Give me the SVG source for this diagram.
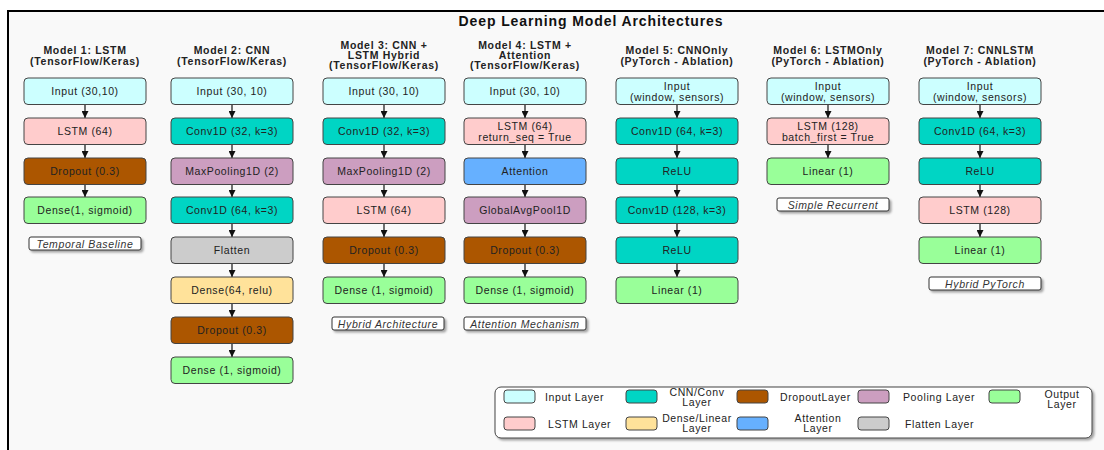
<svg xmlns="http://www.w3.org/2000/svg" width="1104" height="450" viewBox="0 0 1104 450">
  <defs>
    <marker id="arrow" markerUnits="userSpaceOnUse" markerWidth="7" markerHeight="7" viewBox="0 0 7 7" refX="7" refY="3.5" orient="auto">
      <path d="M0,0 L7,3.5 L0,7 z" fill="#111"/>
    </marker>
    <filter id="shadow" x="-10%" y="-30%" width="130%" height="180%">
      <feDropShadow dx="2" dy="2" stdDeviation="1.2" flood-color="#000" flood-opacity="0.35"/>
    </filter>
  </defs>
  <style>
    text { font-family: "Liberation Sans", Arial, sans-serif; fill: #222; }
    .title { font-size: 14px; font-weight: bold; letter-spacing: 0.9px; fill: #111; }
    .head { font-size: 10.5px; font-weight: bold; letter-spacing: 0.7px; fill: #222; }
    .lbl { font-size: 10.5px; letter-spacing: 0.6px; }
    .note { font-size: 10.5px; font-style: italic; letter-spacing: 0.6px; fill: #333; }
    .leg { font-size: 10.5px; letter-spacing: 0.6px; }
    .node rect { stroke: #444; stroke-width: 1; }
    .notebox { fill: #fff; stroke: #333; stroke-width: 1; }
    .conn line { stroke: #111; stroke-width: 1.2; }
    .input { fill: #ccffff; }
    .lstm { fill: #ffcccc; }
    .cnn { fill: #00d5c4; }
    .drop { fill: #ac5600; }
    .pool { fill: #cc9ec0; }
    .dense { fill: #ffe29a; }
    .attn { fill: #66b0ff; }
    .out { fill: #99ff99; }
    .flat { fill: #cccccc; }
  </style>

  <!-- canvas and frame -->
  <rect x="0" y="0" width="1104" height="450" fill="#ffffff"/>
  <rect x="8" y="11" width="1096" height="439" fill="#f9f9f9"/>
  <line x1="7" y1="11" x2="1104" y2="11" stroke="#000" stroke-width="2"/>
  <line x1="8" y1="10" x2="8" y2="450" stroke="#000" stroke-width="2"/>

  <text class="title" x="591" y="26" text-anchor="middle">Deep Learning Model Architectures</text>

  <!-- column headings -->
  <g id="headings">
    <text class="head" x="85" y="53.5" text-anchor="middle">Model 1: LSTM</text>
    <text class="head" x="85" y="64.5" text-anchor="middle">(TensorFlow/Keras)</text>
    <text class="head" x="232" y="53.5" text-anchor="middle">Model 2: CNN</text>
    <text class="head" x="232" y="64.5" text-anchor="middle">(TensorFlow/Keras)</text>
    <text class="head" x="384" y="48.5" text-anchor="middle">Model 3: CNN +</text>
    <text class="head" x="384" y="58.5" text-anchor="middle">LSTM Hybrid</text>
    <text class="head" x="384" y="68.5" text-anchor="middle">(TensorFlow/Keras)</text>
    <text class="head" x="525" y="48.5" text-anchor="middle">Model 4: LSTM +</text>
    <text class="head" x="525" y="58.5" text-anchor="middle">Attention</text>
    <text class="head" x="525" y="68.5" text-anchor="middle">(TensorFlow/Keras)</text>
    <text class="head" x="677" y="53.5" text-anchor="middle">Model 5: CNNOnly</text>
    <text class="head" x="677" y="64.5" text-anchor="middle">(PyTorch - Ablation)</text>
    <text class="head" x="828" y="53.5" text-anchor="middle">Model 6: LSTMOnly</text>
    <text class="head" x="828" y="64.5" text-anchor="middle">(PyTorch - Ablation)</text>
    <text class="head" x="980" y="53.5" text-anchor="middle">Model 7: CNNLSTM</text>
    <text class="head" x="980" y="64.5" text-anchor="middle">(PyTorch - Ablation)</text>
  </g>

  <!-- connectors -->
  <g id="connectors" class="conn">
    <!-- model 1 -->
    <line x1="85" y1="104.5" x2="85" y2="118" marker-end="url(#arrow)"/>
    <line x1="85" y1="144.5" x2="85" y2="158" marker-end="url(#arrow)"/>
    <line x1="85" y1="184.5" x2="85" y2="197" marker-end="url(#arrow)"/>
    <!-- model 2 -->
    <line x1="232" y1="104.5" x2="232" y2="118" marker-end="url(#arrow)"/>
    <line x1="232" y1="144.5" x2="232" y2="158" marker-end="url(#arrow)"/>
    <line x1="232" y1="184.5" x2="232" y2="197" marker-end="url(#arrow)"/>
    <line x1="232" y1="223.5" x2="232" y2="237" marker-end="url(#arrow)"/>
    <line x1="232" y1="263.5" x2="232" y2="277" marker-end="url(#arrow)"/>
    <line x1="232" y1="303.5" x2="232" y2="317" marker-end="url(#arrow)"/>
    <line x1="232" y1="343.5" x2="232" y2="357" marker-end="url(#arrow)"/>
    <!-- model 3 -->
    <line x1="384" y1="104.5" x2="384" y2="118" marker-end="url(#arrow)"/>
    <line x1="384" y1="144.5" x2="384" y2="158" marker-end="url(#arrow)"/>
    <line x1="384" y1="184.5" x2="384" y2="197" marker-end="url(#arrow)"/>
    <line x1="384" y1="223.5" x2="384" y2="237" marker-end="url(#arrow)"/>
    <line x1="384" y1="263.5" x2="384" y2="277" marker-end="url(#arrow)"/>
    <!-- model 4 -->
    <line x1="525" y1="104.5" x2="525" y2="118" marker-end="url(#arrow)"/>
    <line x1="525" y1="144.5" x2="525" y2="158" marker-end="url(#arrow)"/>
    <line x1="525" y1="184.5" x2="525" y2="197" marker-end="url(#arrow)"/>
    <line x1="525" y1="223.5" x2="525" y2="237" marker-end="url(#arrow)"/>
    <line x1="525" y1="263.5" x2="525" y2="277" marker-end="url(#arrow)"/>
    <!-- model 5 -->
    <line x1="677" y1="104.5" x2="677" y2="118" marker-end="url(#arrow)"/>
    <line x1="677" y1="144.5" x2="677" y2="158" marker-end="url(#arrow)"/>
    <line x1="677" y1="184.5" x2="677" y2="197" marker-end="url(#arrow)"/>
    <line x1="677" y1="223.5" x2="677" y2="237" marker-end="url(#arrow)"/>
    <line x1="677" y1="263.5" x2="677" y2="277" marker-end="url(#arrow)"/>
    <!-- model 6 -->
    <line x1="828" y1="104.5" x2="828" y2="118" marker-end="url(#arrow)"/>
    <line x1="828" y1="144.5" x2="828" y2="158" marker-end="url(#arrow)"/>
    <!-- model 7 -->
    <line x1="980" y1="104.5" x2="980" y2="118" marker-end="url(#arrow)"/>
    <line x1="980" y1="144.5" x2="980" y2="158" marker-end="url(#arrow)"/>
    <line x1="980" y1="184.5" x2="980" y2="197" marker-end="url(#arrow)"/>
    <line x1="980" y1="223.5" x2="980" y2="237" marker-end="url(#arrow)"/>
  </g>

  <!-- Model 1 -->
  <g id="m1-input" class="node"><rect class="input" x="24" y="78" width="122" height="26.5" rx="4"/><text class="lbl" x="85" y="95" text-anchor="middle">Input (30,10)</text></g>
  <g id="m1-lstm" class="node"><rect class="lstm" x="24" y="118" width="122" height="26.5" rx="4"/><text class="lbl" x="85" y="135" text-anchor="middle">LSTM (64)</text></g>
  <g id="m1-dropout" class="node"><rect class="drop" x="24" y="158" width="122" height="26.5" rx="4"/><text class="lbl" x="85" y="175" text-anchor="middle">Dropout (0.3)</text></g>
  <g id="m1-dense" class="node"><rect class="out" x="24" y="197" width="122" height="26.5" rx="4"/><text class="lbl" x="85" y="214" text-anchor="middle">Dense(1, sigmoid)</text></g>
  <g id="m1-note"><rect class="notebox" x="29" y="237" width="112" height="13" rx="2" filter="url(#shadow)"/><text class="note" x="85" y="247.5" text-anchor="middle">Temporal Baseline</text></g>

  <!-- Model 2 -->
  <g id="m2-input" class="node"><rect class="input" x="171" y="78" width="122" height="26.5" rx="4"/><text class="lbl" x="232" y="95" text-anchor="middle">Input (30, 10)</text></g>
  <g id="m2-conv1" class="node"><rect class="cnn" x="171" y="118" width="122" height="26.5" rx="4"/><text class="lbl" x="232" y="135" text-anchor="middle">Conv1D (32, k=3)</text></g>
  <g id="m2-pool" class="node"><rect class="pool" x="171" y="158" width="122" height="26.5" rx="4"/><text class="lbl" x="232" y="175" text-anchor="middle">MaxPooling1D (2)</text></g>
  <g id="m2-conv2" class="node"><rect class="cnn" x="171" y="197" width="122" height="26.5" rx="4"/><text class="lbl" x="232" y="214" text-anchor="middle">Conv1D (64, k=3)</text></g>
  <g id="m2-flatten" class="node"><rect class="flat" x="171" y="237" width="122" height="26.5" rx="4"/><text class="lbl" x="232" y="254" text-anchor="middle">Flatten</text></g>
  <g id="m2-dense64" class="node"><rect class="dense" x="171" y="277" width="122" height="26.5" rx="4"/><text class="lbl" x="232" y="294" text-anchor="middle">Dense(64, relu)</text></g>
  <g id="m2-dropout" class="node"><rect class="drop" x="171" y="317" width="122" height="26.5" rx="4"/><text class="lbl" x="232" y="334" text-anchor="middle">Dropout (0.3)</text></g>
  <g id="m2-dense" class="node"><rect class="out" x="171" y="357" width="122" height="26.5" rx="4"/><text class="lbl" x="232" y="374" text-anchor="middle">Dense (1, sigmoid)</text></g>

  <!-- Model 3 -->
  <g id="m3-input" class="node"><rect class="input" x="323" y="78" width="122" height="26.5" rx="4"/><text class="lbl" x="384" y="95" text-anchor="middle">Input (30, 10)</text></g>
  <g id="m3-conv" class="node"><rect class="cnn" x="323" y="118" width="122" height="26.5" rx="4"/><text class="lbl" x="384" y="135" text-anchor="middle">Conv1D (32, k=3)</text></g>
  <g id="m3-pool" class="node"><rect class="pool" x="323" y="158" width="122" height="26.5" rx="4"/><text class="lbl" x="384" y="175" text-anchor="middle">MaxPooling1D (2)</text></g>
  <g id="m3-lstm" class="node"><rect class="lstm" x="323" y="197" width="122" height="26.5" rx="4"/><text class="lbl" x="384" y="214" text-anchor="middle">LSTM (64)</text></g>
  <g id="m3-dropout" class="node"><rect class="drop" x="323" y="237" width="122" height="26.5" rx="4"/><text class="lbl" x="384" y="254" text-anchor="middle">Dropout (0.3)</text></g>
  <g id="m3-dense" class="node"><rect class="out" x="323" y="277" width="122" height="26.5" rx="4"/><text class="lbl" x="384" y="294" text-anchor="middle">Dense (1, sigmoid)</text></g>
  <g id="m3-note"><rect class="notebox" x="332" y="317" width="112" height="13" rx="2" filter="url(#shadow)"/><text class="note" x="388" y="327.5" text-anchor="middle">Hybrid Architecture</text></g>

  <!-- Model 4 -->
  <g id="m4-input" class="node"><rect class="input" x="464" y="78" width="122" height="26.5" rx="4"/><text class="lbl" x="525" y="95" text-anchor="middle">Input (30, 10)</text></g>
  <g id="m4-lstm" class="node"><rect class="lstm" x="464" y="118" width="122" height="26.5" rx="4"/><text class="lbl" x="525" y="129.5" text-anchor="middle">LSTM (64)</text><text class="lbl" x="525" y="140.5" text-anchor="middle">return_seq = True</text></g>
  <g id="m4-attention" class="node"><rect class="attn" x="464" y="158" width="122" height="26.5" rx="4"/><text class="lbl" x="525" y="175" text-anchor="middle">Attention</text></g>
  <g id="m4-gap" class="node"><rect class="pool" x="464" y="197" width="122" height="26.5" rx="4"/><text class="lbl" x="525" y="214" text-anchor="middle">GlobalAvgPool1D</text></g>
  <g id="m4-dropout" class="node"><rect class="drop" x="464" y="237" width="122" height="26.5" rx="4"/><text class="lbl" x="525" y="254" text-anchor="middle">Dropout (0.3)</text></g>
  <g id="m4-dense" class="node"><rect class="out" x="464" y="277" width="122" height="26.5" rx="4"/><text class="lbl" x="525" y="294" text-anchor="middle">Dense (1, sigmoid)</text></g>
  <g id="m4-note"><rect class="notebox" x="464" y="317" width="122" height="13" rx="2" filter="url(#shadow)"/><text class="note" x="525" y="327.5" text-anchor="middle">Attention Mechanism</text></g>

  <!-- Model 5 -->
  <g id="m5-input" class="node"><rect class="input" x="616" y="78" width="122" height="26.5" rx="4"/><text class="lbl" x="677" y="89.5" text-anchor="middle">Input</text><text class="lbl" x="677" y="100.5" text-anchor="middle">(window, sensors)</text></g>
  <g id="m5-conv1" class="node"><rect class="cnn" x="616" y="118" width="122" height="26.5" rx="4"/><text class="lbl" x="677" y="135" text-anchor="middle">Conv1D (64, k=3)</text></g>
  <g id="m5-relu1" class="node"><rect class="cnn" x="616" y="158" width="122" height="26.5" rx="4"/><text class="lbl" x="677" y="175" text-anchor="middle">ReLU</text></g>
  <g id="m5-conv2" class="node"><rect class="cnn" x="616" y="197" width="122" height="26.5" rx="4"/><text class="lbl" x="677" y="214" text-anchor="middle">Conv1D (128, k=3)</text></g>
  <g id="m5-relu2" class="node"><rect class="cnn" x="616" y="237" width="122" height="26.5" rx="4"/><text class="lbl" x="677" y="254" text-anchor="middle">ReLU</text></g>
  <g id="m5-linear" class="node"><rect class="out" x="616" y="277" width="122" height="26.5" rx="4"/><text class="lbl" x="677" y="294" text-anchor="middle">Linear (1)</text></g>

  <!-- Model 6 -->
  <g id="m6-input" class="node"><rect class="input" x="767" y="78" width="122" height="26.5" rx="4"/><text class="lbl" x="828" y="89.5" text-anchor="middle">Input</text><text class="lbl" x="828" y="100.5" text-anchor="middle">(window, sensors)</text></g>
  <g id="m6-lstm" class="node"><rect class="lstm" x="767" y="118" width="122" height="26.5" rx="4"/><text class="lbl" x="828" y="129.5" text-anchor="middle">LSTM (128)</text><text class="lbl" x="828" y="140.5" text-anchor="middle">batch_first = True</text></g>
  <g id="m6-linear" class="node"><rect class="out" x="767" y="158" width="122" height="26.5" rx="4"/><text class="lbl" x="828" y="175" text-anchor="middle">Linear (1)</text></g>
  <g id="m6-note"><rect class="notebox" x="777" y="198" width="112" height="13" rx="2" filter="url(#shadow)"/><text class="note" x="833" y="208.5" text-anchor="middle">Simple Recurrent</text></g>

  <!-- Model 7 -->
  <g id="m7-input" class="node"><rect class="input" x="919" y="78" width="122" height="26.5" rx="4"/><text class="lbl" x="980" y="89.5" text-anchor="middle">Input</text><text class="lbl" x="980" y="100.5" text-anchor="middle">(window, sensors)</text></g>
  <g id="m7-conv" class="node"><rect class="cnn" x="919" y="118" width="122" height="26.5" rx="4"/><text class="lbl" x="980" y="135" text-anchor="middle">Conv1D (64, k=3)</text></g>
  <g id="m7-relu" class="node"><rect class="cnn" x="919" y="158" width="122" height="26.5" rx="4"/><text class="lbl" x="980" y="175" text-anchor="middle">ReLU</text></g>
  <g id="m7-lstm" class="node"><rect class="lstm" x="919" y="197" width="122" height="26.5" rx="4"/><text class="lbl" x="980" y="214" text-anchor="middle">LSTM (128)</text></g>
  <g id="m7-linear" class="node"><rect class="out" x="919" y="237" width="122" height="26.5" rx="4"/><text class="lbl" x="980" y="254" text-anchor="middle">Linear (1)</text></g>
  <g id="m7-note"><rect class="notebox" x="929" y="277" width="112" height="13" rx="2" filter="url(#shadow)"/><text class="note" x="985" y="287.5" text-anchor="middle">Hybrid PyTorch</text></g>

  <!-- legend -->
  <g id="legend" class="node">
    <rect x="495" y="387" width="597" height="51" rx="6" fill="#fff" stroke="#bbb" stroke-width="1" filter="url(#shadow)"/>
    <rect class="input" x="504" y="390" width="31" height="13" rx="3"/>
    <text class="leg" x="545" y="400.5">Input Layer</text>
    <rect class="cnn" x="626" y="390" width="31" height="13" rx="3"/>
    <text class="leg" x="697" y="395.5" text-anchor="middle">CNN/Conv</text>
    <text class="leg" x="697" y="405.5" text-anchor="middle">Layer</text>
    <rect class="drop" x="737" y="390" width="31" height="13" rx="3"/>
    <text class="leg" x="780" y="400.5">DropoutLayer</text>
    <rect class="pool" x="858" y="390" width="31" height="13" rx="3"/>
    <text class="leg" x="903" y="400.5">Pooling Layer</text>
    <rect class="out" x="989" y="390" width="31" height="13" rx="3"/>
    <text class="leg" x="1062" y="397.5" text-anchor="middle">Output</text>
    <text class="leg" x="1062" y="407.5" text-anchor="middle">Layer</text>

    <rect class="lstm" x="504" y="417" width="31" height="13" rx="3"/>
    <text class="leg" x="548" y="427.5">LSTM Layer</text>
    <rect class="dense" x="626" y="417" width="31" height="13" rx="3"/>
    <text class="leg" x="697" y="421.5" text-anchor="middle">Dense/Linear</text>
    <text class="leg" x="697" y="431.5" text-anchor="middle">Layer</text>
    <rect class="attn" x="737" y="417" width="31" height="13" rx="3"/>
    <text class="leg" x="818" y="421.5" text-anchor="middle">Attention</text>
    <text class="leg" x="818" y="431.5" text-anchor="middle">Layer</text>
    <rect class="flat" x="858" y="417" width="31" height="13" rx="3"/>
    <text class="leg" x="905" y="427.5">Flatten Layer</text>
  </g>
</svg>
